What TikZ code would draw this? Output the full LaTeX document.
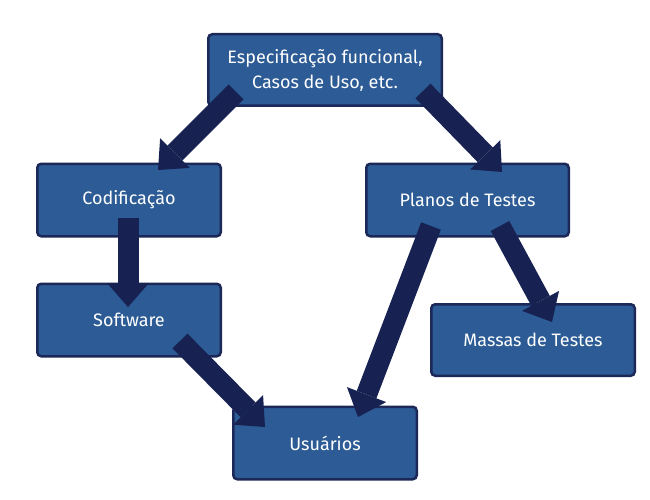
\documentclass[tikz,border=0pt]{standalone}
\usepackage{fontspec}
\setmainfont{Fira Sans}
\usepackage{tikz}
\usetikzlibrary{arrows.meta}
\usepackage{xcolor}
\definecolor{boxblue}{HTML}{2C5B95}
\definecolor{boxline}{HTML}{1B2858}
\definecolor{arrownavy}{HTML}{172252}

\begin{document}
\begin{tikzpicture}[x=1pt,y=-1pt,
  box/.style={draw=boxline,fill=boxblue,line width=2.5pt,rounded corners=4pt,
    text=white,font=\fontsize{18}{25}\selectfont,align=center,inner sep=0pt},
  blockarrow/.style={arrownavy,line width=21pt,
    -{Triangle[length=24pt,width=42pt,line width=0pt]}}]
 \useasboundingbox (0,0) rectangle (650,500);
 \fill[white] (0,0) rectangle (650,500);

 \node[box,minimum width=233.5pt,minimum height=71.5pt] (spec) at (325,70) {Especificação funcional,\\Casos de Uso, etc.};
 \node[box,minimum width=183.5pt,minimum height=72.5pt] (codif) at (129,200) {Codificação};
 \node[box,minimum width=183.5pt,minimum height=72.5pt] (soft) at (129,320) {Software};
 \node[box,minimum width=183.5pt,minimum height=72.5pt] (usu) at (325,443) {Usuários};
 \node[box,minimum width=202.5pt,minimum height=72.5pt] (planos) at (467.5,200) {Planos de Testes};
 \node[box,minimum width=203.5pt,minimum height=71.5pt] (massas) at (533,340) {Massas de Testes};

 % setas
 \draw[blockarrow] ([shift={(29,-15)}]spec.south west) -- ([shift={(29,7.5)}]codif.north);
 \draw[blockarrow] ([shift={(-20,-16)}]spec.south east) -- ([shift={(34.5,9.5)}]planos.north);
 \draw[blockarrow] ([shift={(-1,-19.5)}]codif.south) -- ([shift={(-1,24.5)}]soft.north);
 \draw[blockarrow] ([shift={(-42,-16.5)}]soft.south east) -- ([shift={(33,21.5)}]usu.north west);
 \draw[blockarrow] ([shift={(66,-11.5)}]planos.south west) -- ([shift={(-60,11.5)}]usu.north east);
 \draw[blockarrow] ([shift={(32.5,-11.5)}]planos.south) -- ([shift={(19,19)}]massas.north);
\end{tikzpicture}
\end{document}
